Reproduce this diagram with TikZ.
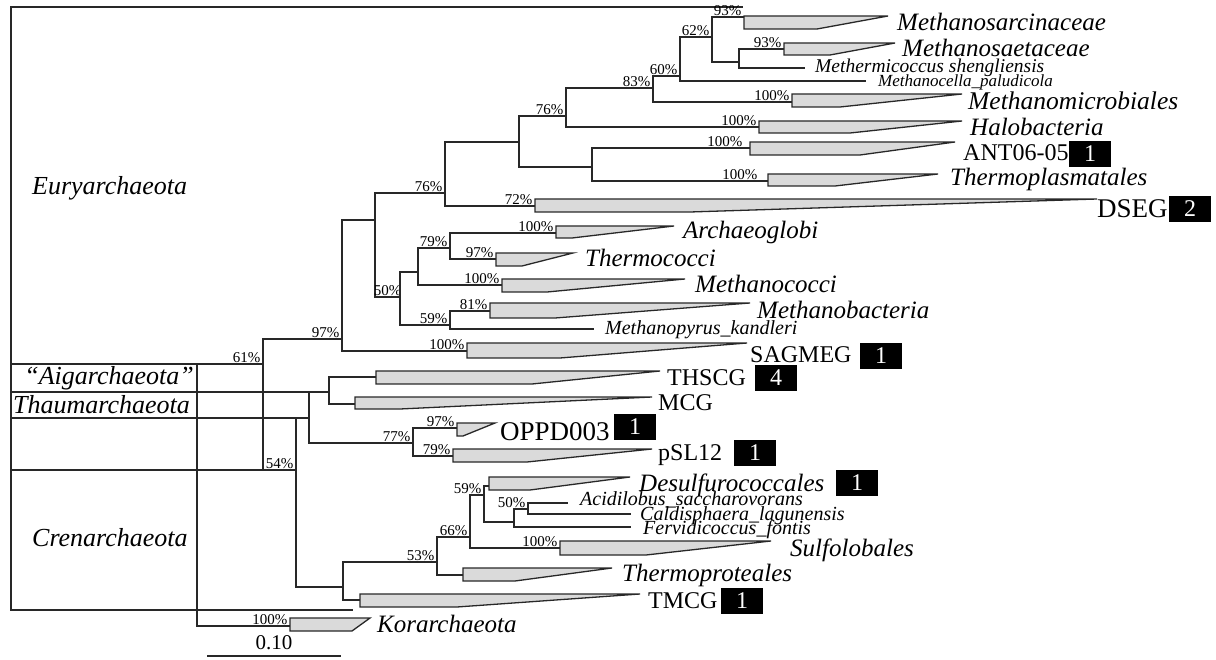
\documentclass[tikz,border=0pt]{standalone}
\usepackage{fontspec}
\setmainfont{Liberation Serif}
\usetikzlibrary{positioning}
\definecolor{treegray}{RGB}{40,40,40}
\definecolor{cladefill}{RGB}{218,218,218}
% collapsed clade: left x, top y, bottom y, bottom corner x, tip x
\newcommand{\cladewedge}[5]{\draw[clade] (#1,#2) -- (#5,#2) -- (#4,#3) -- (#1,#3) -- cycle;}

\begin{document}
\begin{tikzpicture}[x=1pt, y=-1pt,
    branch/.style={draw=treegray, line width=1.3pt, line cap=rect},
    clade/.style={draw=treegray, fill=cladefill, line width=1.3pt},
    pct/.style={anchor=south east, inner xsep=2pt, inner ysep=0.6pt, font=\fontsize{15}{15}\selectfont},
    taxon/.style={anchor=west, inner sep=0pt, font=\fontsize{25}{25}\selectfont\itshape},
    species/.style={anchor=west, inner sep=0pt, font=\fontsize{20}{20}\selectfont\itshape},
    minor/.style={anchor=west, inner sep=0pt, font=\fontsize{18}{18}\selectfont\itshape},
    otu/.style={anchor=west, inner sep=0pt, font=\fontsize{24}{24}\selectfont},
    numbox/.style={fill=black, text=white, minimum width=42pt, minimum height=26pt, inner sep=0pt, font=\fontsize{24}{24}\selectfont},
    phylum/.style={inner sep=0pt, font=\fontsize{26}{26}\selectfont\itshape},
]
\useasboundingbox (0,0) rectangle (1216,660);

% Table frame
\draw[branch] (11,7) -- (742,7);
\draw[branch] (11,7) -- (11,610) -- (352,610);
\draw[branch] (11,364) -- (197,364);
\draw[branch] (11,392) -- (309,392);
\draw[branch] (11,418) -- (296,418);
\draw[branch] (11,470) -- (263,470);

% Phyla
\node[phylum, anchor=west] (eury) at (32,188) {Euryarchaeota};
\node[phylum, anchor=east] (aig) at (194,378) {“Aigarchaeota”};
\node[phylum, anchor=west] (thaum) at (13,405) {Thaumarchaeota};
\node[phylum, anchor=west] (cren) at (32,538) {Crenarchaeota};

% Internal nodes
\coordinate (root) at (197,364);
\coordinate (n61) at (263,364);
\coordinate (n97) at (342,339);
\coordinate (n76a) at (375,220);
\coordinate (n76b) at (445,193);
\coordinate (n76c) at (519,142);
\coordinate (nA) at (566,116);
\coordinate (nB) at (653,88);
\coordinate (nC) at (680,76);
\coordinate (nD) at (712,37);
\coordinate (nE) at (739,62);
\coordinate (nThermo) at (592,167);
\coordinate (n50) at (400,297);
\coordinate (nF) at (418,272);
\coordinate (n79) at (450,248);
\coordinate (n59) at (450,325);
\coordinate (n54) at (296,470);
\coordinate (nG) at (309,418);
\coordinate (nH) at (329,392);
\coordinate (n77) at (413,443);
\coordinate (n53) at (343,587);
\coordinate (n66) at (437,562);
\coordinate (n59c) at (470,537);
\coordinate (nI) at (484,495);
\coordinate (nJ) at (514,522);
\coordinate (nK) at (528,509);

% Leaves and clades
\coordinate (msarc) at (744,17);
\coordinate (msaet) at (784,49);
\coordinate (mthermi) at (804,68);
\coordinate (mcella) at (865,81);
\coordinate (mmicro) at (792,102);
\coordinate (halo) at (759,127);
\coordinate (ant) at (750,148);
\coordinate (tplasm) at (768,181);
\coordinate (dseg) at (535,206);
\coordinate (archaeo) at (556,233);
\coordinate (thcocci) at (496,259);
\coordinate (mcocci) at (502,285);
\coordinate (mbact) at (490,311);
\coordinate (mpyrus) at (593,329);
\coordinate (sagmeg) at (467,351);
\coordinate (thscg) at (376,377);
\coordinate (mcg) at (355,404);
\coordinate (oppd) at (457,428);
\coordinate (psl) at (453,456);
\coordinate (desulf) at (489,486);
\coordinate (acidi) at (567,503);
\coordinate (caldi) at (630,514);
\coordinate (fervi) at (630,527);
\coordinate (sulfo) at (560,548);
\coordinate (tprot) at (463,575);
\coordinate (tmcg) at (360,600);
\coordinate (kor) at (290,626);

% Branches
\draw[branch] (root) |- (n61) node[pct] (b-n61) {61\%};
\draw[branch] (root) |- (kor) node[pct] (b-kor) {100\%};
\draw[branch] (n61) |- (n97) node[pct] (b-n97) {97\%};
\draw[branch] (n61) |- (n54) node[pct] (b-n54) {54\%};
\draw[branch] (n97) |- (n76a);
\draw[branch] (n97) |- (sagmeg) node[pct] (b-sagmeg) {100\%};
\draw[branch] (n76a) |- (n76b) node[pct] (b-n76b) {76\%};
\draw[branch] (n76a) |- (n50) node[pct, xshift=4pt] (b-n50) {50\%};
\draw[branch] (n76b) |- (n76c);
\draw[branch] (n76b) |- (dseg) node[pct] (b-dseg) {72\%};
\draw[branch] (n76c) |- (nA) node[pct] (b-nA) {76\%};
\draw[branch] (n76c) |- (nThermo);
\draw[branch] (nA) |- (nB) node[pct] (b-nB) {83\%};
\draw[branch] (nA) |- (halo) node[pct] (b-halo) {100\%};
\draw[branch] (nB) |- (nC) node[pct] (b-nC) {60\%};
\draw[branch] (nB) |- (mmicro) node[pct] (b-mmicro) {100\%};
\draw[branch] (nC) |- (nD) node[pct] (b-nD) {62\%};
\draw[branch] (nC) |- (mcella);
\draw[branch] (nD) |- (msarc) node[pct] (b-msarc) {93\%};
\draw[branch] (nD) |- (nE);
\draw[branch] (nE) |- (msaet) node[pct] (b-msaet) {93\%};
\draw[branch] (nE) |- (mthermi);
\draw[branch] (nThermo) |- (ant) node[pct, xshift=-5pt] (b-ant) {100\%};
\draw[branch] (nThermo) |- (tplasm) node[pct, xshift=-8pt] (b-tplasm) {100\%};
\draw[branch] (n50) |- (nF);
\draw[branch] (n50) |- (n59) node[pct] (b-n59) {59\%};
\draw[branch] (nF) |- (n79) node[pct] (b-n79) {79\%};
\draw[branch] (nF) |- (mcocci) node[pct] (b-mcocci) {100\%};
\draw[branch] (n79) |- (archaeo) node[pct] (b-archaeo) {100\%};
\draw[branch] (n79) |- (thcocci) node[pct] (b-thcocci) {97\%};
\draw[branch] (n59) |- (mbact) node[pct] (b-mbact) {81\%};
\draw[branch] (n59) |- (mpyrus);
\draw[branch] (n54) |- (nG);
\draw[branch] (n54) |- (n53);
\draw[branch] (nG) |- (nH);
\draw[branch] (nG) |- (n77) node[pct] (b-n77) {77\%};
\draw[branch] (nH) |- (thscg);
\draw[branch] (nH) |- (mcg);
\draw[branch] (n77) |- (oppd) node[pct] (b-oppd) {97\%};
\draw[branch] (n77) |- (psl) node[pct] (b-psl) {79\%};
\draw[branch] (n53) |- (n66) node[pct] (b-n66) {53\%};
\draw[branch] (n53) |- (tmcg);
\draw[branch] (n66) |- (n59c) node[pct] (b-n59c) {66\%};
\draw[branch] (n66) |- (tprot);
\draw[branch] (n59c) |- (nI) node[pct] (b-nI) {59\%};
\draw[branch] (n59c) |- (sulfo) node[pct] (b-sulfo) {100\%};
\draw[branch] (nI) |- (desulf);
\draw[branch] (nI) |- (nJ);
\draw[branch] (nJ) |- (nK) node[pct] (b-nK) {50\%};
\draw[branch] (nJ) |- (fervi);
\draw[branch] (nK) |- (acidi);
\draw[branch] (nK) |- (caldi);

% Collapsed clades
\cladewedge{744}{16}{29}{817}{888}
\cladewedge{784}{43}{55}{830}{895}
\cladewedge{792}{94}{107}{840}{962}
\cladewedge{759}{121}{133}{850}{962}
\cladewedge{750}{142}{155}{860}{955}
\cladewedge{768}{174}{186}{835}{938}
\cladewedge{535}{199}{212}{690}{1097}
\cladewedge{556}{226}{238}{572}{674}
\cladewedge{496}{253}{266}{522}{573}
\cladewedge{502}{279}{292}{547}{685}
\cladewedge{490}{303}{318}{555}{750}
\cladewedge{467}{343}{358}{560}{747}
\cladewedge{376}{371}{384}{532}{660}
\cladewedge{355}{397}{409}{400}{652}
\cladewedge{457}{423}{436}{463}{495}
\cladewedge{453}{449}{462}{527}{652}
\cladewedge{489}{477}{490}{530}{630}
\cladewedge{560}{541}{555}{646}{771}
\cladewedge{463}{568}{581}{515}{612}
\cladewedge{360}{594}{607}{457}{640}
\cladewedge{290}{618}{631}{352}{370}

% Labels
\node[taxon] (lab-msarc) at (897,22) {Methanosarcinaceae};
\node[taxon] (lab-msaet) at (902,48) {Methanosaetaceae};
\node[minor, font=\fontsize{19.5}{19.5}\selectfont\itshape] (lab-mthermi) at (815,68) {Methermicoccus shengliensis};
\node[minor, font=\fontsize{17}{17}\selectfont\itshape] (lab-mcella) at (878,82) {Methanocella\_paludicola};
\node[taxon, font=\fontsize{25.5}{25.5}\selectfont\itshape] (lab-mmicro) at (968,101) {Methanomicrobiales};
\node[taxon] (lab-halo) at (970,127) {Halobacteria};
\node[otu] (lab-ant) at (963,153) {ANT06-05};
\node[taxon] (lab-tplasm) at (950,179) {Thermoplasmatales};
\node[otu, font=\fontsize{27}{27}\selectfont] (lab-dseg) at (1097,209) {DSEG};
\node[taxon] (lab-archaeo) at (683,232) {Archaeoglobi};
\node[taxon] (lab-thcocci) at (585,258) {Thermococci};
\node[taxon] (lab-mcocci) at (695,284) {Methanococci};
\node[taxon] (lab-mbact) at (757,310) {Methanobacteria};
\node[species] (lab-mpyrus) at (605,330) {Methanopyrus\_kandleri};
\node[otu] (lab-sagmeg) at (750,355) {SAGMEG};
\node[otu] (lab-thscg) at (667,378) {THSCG};
\node[otu] (lab-mcg) at (658,403) {MCG};
\node[otu, font=\fontsize{27}{27}\selectfont] (lab-oppd) at (500,432) {OPPD003};
\node[otu] (lab-psl) at (658,455) {pSL12};
\node[taxon] (lab-desulf) at (639,485) {Desulfurococcales};
\node[species] (lab-acidi) at (580,500) {Acidilobus\_saccharovorans};
\node[species] (lab-caldi) at (640,516) {Caldisphaera\_lagunensis};
\node[species] (lab-fervi) at (643,530) {Fervidicoccus\_fontis};
\node[taxon] (lab-sulfo) at (790,550) {Sulfolobales};
\node[taxon] (lab-tprot) at (622,575) {Thermoproteales};
\node[otu] (lab-tmcg) at (648,601) {TMCG};
\node[taxon] (lab-kor) at (377,624) {Korarchaeota};

% Sequence counts
\node[numbox] (box-ant) at (1090,154) {1};
\node[numbox] (box-dseg) at (1190,209) {2};
\node[numbox] (box-sagmeg) at (881,356) {1};
\node[numbox] (box-thscg) at (776,378) {4};
\node[numbox] (box-oppd) at (635,427) {1};
\node[numbox] (box-psl) at (755,453) {1};
\node[numbox] (box-desulf) at (857,483) {1};
\node[numbox] (box-tmcg) at (742,601) {1};

% Scale bar
\coordinate (sb-l) at (208,656);
\coordinate (sb-r) at (340,656);
\draw[branch] (sb-l) -- (sb-r) node[midway, above=6pt, inner sep=0pt, font=\fontsize{21}{21}\selectfont] (sb-lab) {0.10};
\end{tikzpicture}
\end{document}
